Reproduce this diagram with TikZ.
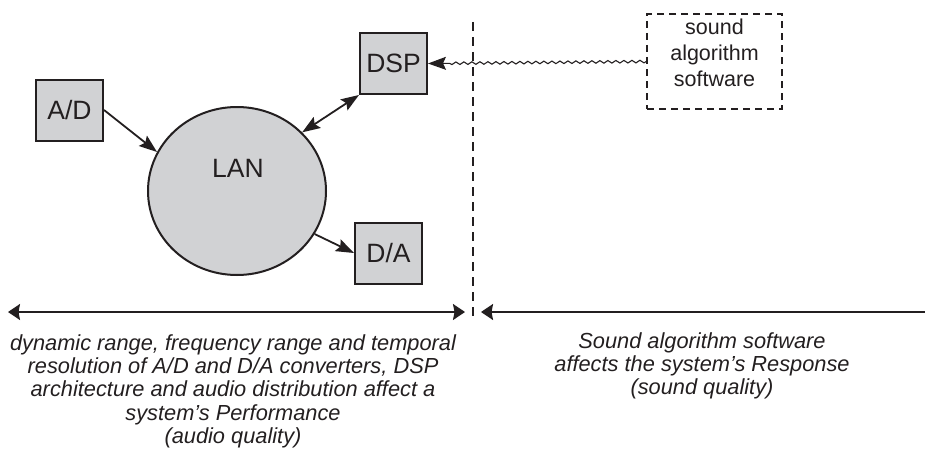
\documentclass[tikz,border=0pt]{standalone}
\usepackage{fontspec}
\setmainfont{Liberation Sans}
\usetikzlibrary{arrows.meta,decorations.pathmorphing,shapes.geometric}
\definecolor{ink}{HTML}{231F20}
\definecolor{boxgray}{HTML}{D1D2D4}
\begin{document}
\begin{tikzpicture}[x=1pt,y=-1pt,
  unit/.style={draw=ink, line width=2pt, fill=boxgray, minimum width=67pt, minimum height=61pt, inner sep=0pt, font=\fontsize{26.5}{31}\selectfont, text=ink},
  lanshape/.style={ellipse, draw=ink, line width=2pt, fill=boxgray, minimum width=178pt, minimum height=168pt, inner sep=0pt},
  conn/.style={draw=ink, line width=1.8pt},
  tip/.tip={Stealth[length=18pt,width=13pt,inset=3pt]},
  spantip/.tip={Stealth[length=12pt,width=16pt,inset=1.5pt]},
  dashbox/.style={draw=ink, line width=1.2pt, dash pattern=on 7pt off 5pt, minimum width=135pt, minimum height=95pt, inner sep=0pt},
  divider/.style={draw=ink, line width=1.2pt, dash pattern=on 9pt off 6pt},
  span/.style={draw=ink, line width=1.8pt},
  caption/.style={align=center, font=\fontsize{21.8}{23.4}\selectfont\itshape, text=ink, inner sep=0pt}]
\useasboundingbox (0,0) rectangle (925,452);
\node[unit] (ad) at (69.5,110) {A/D};
\node[unit] (dsp) at (393.5,63.5) {DSP};
\node[unit] (da) at (388.5,253) {D/A};
\node[lanshape] (lan) at (237,191) {};
\node[font=\fontsize{26.5}{31}\selectfont, text=ink] (lanlabel) at (238,168) {LAN};
\node[dashbox] (snd) at (714.5,61.5) {};
\node[align=center, font=\fontsize{21.5}{26}\selectfont, text=ink] (sndtext) at (714.5,53) {sound\\algorithm\\software};
\coordinate (vtop) at (473,22);
\coordinate (vbot) at (473,318);
\draw[divider] (vtop) -- (vbot);
\draw[conn, -tip] (ad.east) -- (lan.154);
\draw[conn, tip-tip] (lan.42) -- (dsp.south west);
\draw[conn, -tip] (lan.-29) -- (da.west);
\draw[draw=ink, line width=1.1pt, -tip, decorate, decoration={snake, amplitude=1.3pt, segment length=8pt, post length=19pt}] (snd.west) -- (dsp.east);
\coordinate (la) at (8,312);
\coordinate (lb) at (465,312);
\draw[span, spantip-spantip] (la) -- (lb);
\coordinate (ra) at (481,312);
\coordinate (rb) at (925,312);
\draw[span, spantip-] (ra) -- (rb);
\node[caption, anchor=north] (lcap) at (233,334) {dynamic range, frequency range and temporal\\resolution of A/D and D/A converters, DSP\\architecture and audio distribution affect a\\system’s Performance\\(audio quality)};
\node[caption, anchor=north] (rcap) at (702,332) {Sound algorithm software\\affects the system’s Response\\(sound quality)};
\end{tikzpicture}
\end{document}
